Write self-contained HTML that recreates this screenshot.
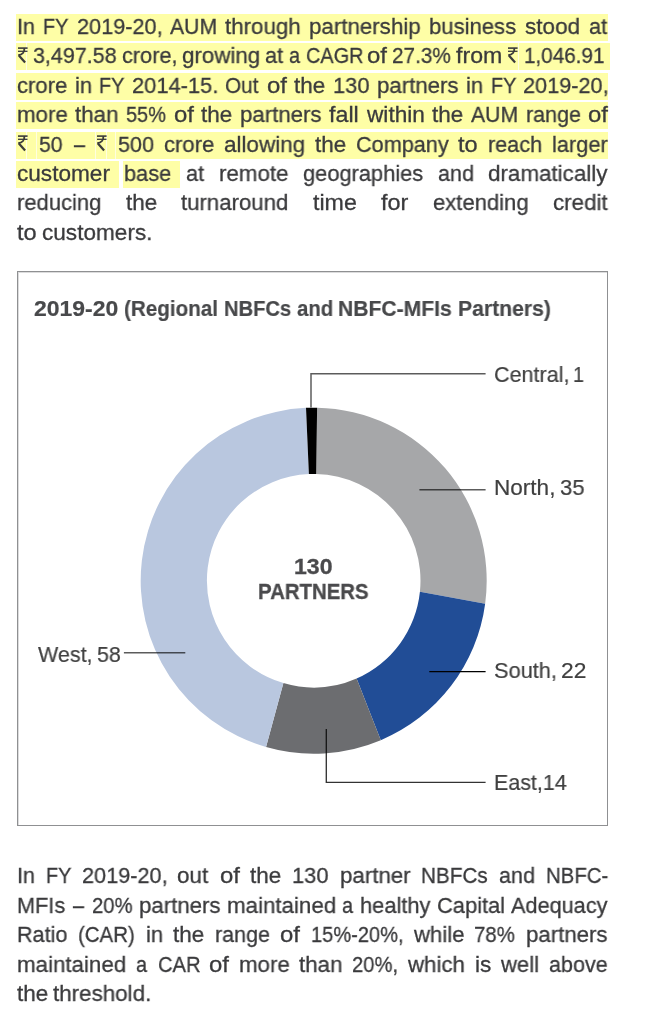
<!DOCTYPE html>
<html><head><meta charset="utf-8"><style>
html,body{margin:0;padding:0;background:#fff;}
body{width:670px;height:1014px;position:relative;overflow:hidden;font-family:"Liberation Sans",sans-serif;}
span,.r{position:absolute;white-space:nowrap;transform-origin:0 0;will-change:transform;}
.hl{position:absolute;background:#fefea6;}
.gap{position:absolute;width:1px;background:#fefee0;}
.w{font-size:22.6px;line-height:22.6px;color:#3a3a3c;-webkit-text-stroke:0.3px #3a3a3c;}
.frame{position:absolute;left:17px;top:271px;width:589px;height:553px;border:1px solid #8f9092;box-shadow:inset 1px 1px 0 #dcdcdd;}
.tt{font-size:22.5px;line-height:22.5px;font-weight:bold;color:#48494b;-webkit-text-stroke:0.2px #48494b;}
.chart{position:absolute;left:0;top:0;}
.lab{font-size:22.4px;line-height:22.4px;color:#404040;-webkit-text-stroke:0.2px #404040;}
.ctr{font-size:22.2px;line-height:22.2px;font-weight:bold;color:#4a4a4c;-webkit-text-stroke:0.3px #4a4a4c;}
</style></head><body>
<div class="hl" style="left:16.0px;top:13.9px;width:592.0px;height:27px"></div>
<div class="hl" style="left:16.0px;top:43.3px;width:594.0px;height:27px"></div>
<div class="hl" style="left:16.0px;top:72.7px;width:592.0px;height:27px"></div>
<div class="hl" style="left:16.0px;top:102.1px;width:592.0px;height:27px"></div>
<div class="hl" style="left:16.0px;top:131.5px;width:592.0px;height:27px"></div>
<div class="hl" style="left:16.0px;top:160.9px;width:102.6px;height:27px"></div>
<div class="hl" style="left:123.2px;top:160.9px;width:56.8px;height:27px"></div>
<div class="gap" style="left:26.1px;top:43.3px;height:27px"></div>
<div class="gap" style="left:517.7px;top:43.3px;height:27px"></div>
<div class="gap" style="left:26.3px;top:131.5px;height:27px"></div>
<div class="gap" style="left:35.7px;top:131.5px;height:27px"></div>
<div class="gap" style="left:94.8px;top:131.5px;height:27px"></div>
<div class="gap" style="left:105.5px;top:131.5px;height:27px"></div>
<div class="gap" style="left:114.5px;top:131.5px;height:27px"></div>
<span class="w" style="left:16.97px;top:16.07px;transform:scaleX(0.9510)">In</span>
<span class="w" style="left:43.44px;top:16.07px;transform:scaleX(0.8800)">FY</span>
<span class="w" style="left:76.64px;top:16.07px;transform:scaleX(0.9601)">2019-20,</span>
<span class="w" style="left:169.73px;top:16.07px;transform:scaleX(0.9375)">AUM</span>
<span class="w" style="left:224.96px;top:16.07px;transform:scaleX(0.9884)">through</span>
<span class="w" style="left:309.16px;top:16.07px;transform:scaleX(0.9875)">partnership</span>
<span class="w" style="left:429.24px;top:16.07px;transform:scaleX(0.9770)">business</span>
<span class="w" style="left:525.44px;top:16.07px;transform:scaleX(0.9956)">stood</span>
<span class="w" style="left:589.06px;top:16.07px;transform:scaleX(0.9652)">at</span>
<svg class="r" style="left:16.70px;top:46.20px" width="11" height="18" viewBox="0 0 11 18"><g fill="none" stroke="#3a3a3c"><path d="M1,2.1H10.6" stroke-width="1.6"/><path d="M1,5.3H10.5" stroke-width="1.3"/><path d="M7.3,2.1C7.7,5.9 5.6,8.9 1.2,9.1" stroke-width="1.8"/><path d="M1.9,9.5L8.1,16.4" stroke-width="2.2"/></g></svg>
<span class="w" style="left:33.49px;top:45.47px;transform:scaleX(0.9500)">3,497.58</span>
<span class="w" style="left:122.25px;top:45.47px;transform:scaleX(0.9606)">crore,</span>
<span class="w" style="left:181.63px;top:45.47px;transform:scaleX(0.9883)">growing</span>
<span class="w" style="left:265.04px;top:45.47px;transform:scaleX(0.9652)">at</span>
<span class="w" style="left:288.73px;top:45.47px;transform:scaleX(0.8800)">a</span>
<span class="w" style="left:305.63px;top:45.47px;transform:scaleX(0.8800)">CAGR</span>
<span class="w" style="left:367.41px;top:45.47px;transform:scaleX(1.0600)">of</span>
<span class="w" style="left:392.25px;top:45.47px;transform:scaleX(0.9165)">27.3%</span>
<span class="w" style="left:456.42px;top:45.47px;transform:scaleX(1.0249)">from</span>
<svg class="r" style="left:507.25px;top:46.20px" width="11" height="18" viewBox="0 0 11 18"><g fill="none" stroke="#3a3a3c"><path d="M1,2.1H10.6" stroke-width="1.6"/><path d="M1,5.3H10.5" stroke-width="1.3"/><path d="M7.3,2.1C7.7,5.9 5.6,8.9 1.2,9.1" stroke-width="1.8"/><path d="M1.9,9.5L8.1,16.4" stroke-width="2.2"/></g></svg>
<span class="w" style="left:524.04px;top:45.47px;transform:scaleX(0.9145)">1,046.91</span>
<span class="w" style="left:17.02px;top:74.87px;transform:scaleX(0.9756)">crore</span>
<span class="w" style="left:74.63px;top:74.87px;transform:scaleX(0.9722)">in</span>
<span class="w" style="left:99.37px;top:74.87px;transform:scaleX(0.8800)">FY</span>
<span class="w" style="left:131.68px;top:74.87px;transform:scaleX(0.9682)">2014-15.</span>
<span class="w" style="left:225.44px;top:74.87px;transform:scaleX(0.9154)">Out</span>
<span class="w" style="left:266.84px;top:74.87px;transform:scaleX(1.0600)">of</span>
<span class="w" style="left:293.96px;top:74.87px;transform:scaleX(0.9947)">the</span>
<span class="w" style="left:332.66px;top:74.87px;transform:scaleX(0.9666)">130</span>
<span class="w" style="left:376.88px;top:74.87px;transform:scaleX(0.9840)">partners</span>
<span class="w" style="left:466.26px;top:74.87px;transform:scaleX(0.9722)">in</span>
<span class="w" style="left:491.00px;top:74.87px;transform:scaleX(0.8800)">FY</span>
<span class="w" style="left:523.32px;top:74.87px;transform:scaleX(0.9601)">2019-20,</span>
<span class="w" style="left:17.06px;top:104.27px;transform:scaleX(0.9853)">more</span>
<span class="w" style="left:74.78px;top:104.27px;transform:scaleX(0.9880)">than</span>
<span class="w" style="left:126.43px;top:104.27px;transform:scaleX(0.8800)">55%</span>
<span class="w" style="left:173.84px;top:104.27px;transform:scaleX(1.0600)">of</span>
<span class="w" style="left:200.97px;top:104.27px;transform:scaleX(0.9947)">the</span>
<span class="w" style="left:239.59px;top:104.27px;transform:scaleX(0.9840)">partners</span>
<span class="w" style="left:329.16px;top:104.27px;transform:scaleX(1.0296)">fall</span>
<span class="w" style="left:366.98px;top:104.27px;transform:scaleX(1.0019)">within</span>
<span class="w" style="left:432.07px;top:104.27px;transform:scaleX(0.9947)">the</span>
<span class="w" style="left:470.82px;top:104.27px;transform:scaleX(0.9375)">AUM</span>
<span class="w" style="left:525.61px;top:104.27px;transform:scaleX(0.9509)">range</span>
<span class="w" style="left:587.88px;top:104.27px;transform:scaleX(1.0600)">of</span>
<svg class="r" style="left:16.70px;top:134.40px" width="11" height="18" viewBox="0 0 11 18"><g fill="none" stroke="#3a3a3c"><path d="M1,2.1H10.6" stroke-width="1.6"/><path d="M1,5.3H10.5" stroke-width="1.3"/><path d="M7.3,2.1C7.7,5.9 5.6,8.9 1.2,9.1" stroke-width="1.8"/><path d="M1.9,9.5L8.1,16.4" stroke-width="2.2"/></g></svg>
<span class="w" style="left:38.77px;top:133.67px;transform:scaleX(0.9380)">50</span>
<span class="w" style="left:73.97px;top:133.67px;transform:scaleX(0.8800)">–</span>
<svg class="r" style="left:96.17px;top:134.40px" width="11" height="18" viewBox="0 0 11 18"><g fill="none" stroke="#3a3a3c"><path d="M1,2.1H10.6" stroke-width="1.6"/><path d="M1,5.3H10.5" stroke-width="1.3"/><path d="M7.3,2.1C7.7,5.9 5.6,8.9 1.2,9.1" stroke-width="1.8"/><path d="M1.9,9.5L8.1,16.4" stroke-width="2.2"/></g></svg>
<span class="w" style="left:118.22px;top:133.67px;transform:scaleX(0.9539)">500</span>
<span class="w" style="left:164.24px;top:133.67px;transform:scaleX(0.9756)">crore</span>
<span class="w" style="left:224.29px;top:133.67px;transform:scaleX(0.9944)">allowing</span>
<span class="w" style="left:315.10px;top:133.67px;transform:scaleX(0.9947)">the</span>
<span class="w" style="left:356.06px;top:133.67px;transform:scaleX(0.9585)">Company</span>
<span class="w" style="left:458.39px;top:133.67px;transform:scaleX(1.0437)">to</span>
<span class="w" style="left:488.00px;top:133.67px;transform:scaleX(0.9572)">reach</span>
<span class="w" style="left:552.25px;top:133.67px;transform:scaleX(0.9654)">larger</span>
<span class="w" style="left:17.00px;top:163.07px;transform:scaleX(1.0005)">customer</span>
<span class="w" style="left:124.28px;top:163.07px;transform:scaleX(0.9624)">base</span>
<span class="w" style="left:185.80px;top:163.07px;transform:scaleX(0.9652)">at</span>
<span class="w" style="left:219.04px;top:163.07px;transform:scaleX(0.9881)">remote</span>
<span class="w" style="left:302.77px;top:163.07px;transform:scaleX(0.9665)">geographies</span>
<span class="w" style="left:437.77px;top:163.07px;transform:scaleX(0.9545)">and</span>
<span class="w" style="left:488.31px;top:163.07px;transform:scaleX(0.9910)">dramatically</span>
<span class="w" style="left:17.18px;top:192.47px;transform:scaleX(0.9738)">reducing</span>
<span class="w" style="left:125.83px;top:192.47px;transform:scaleX(0.9947)">the</span>
<span class="w" style="left:181.06px;top:192.47px;transform:scaleX(0.9818)">turnaround</span>
<span class="w" style="left:312.65px;top:192.47px;transform:scaleX(1.0261)">time</span>
<span class="w" style="left:381.00px;top:192.47px;transform:scaleX(1.0364)">for</span>
<span class="w" style="left:432.54px;top:192.47px;transform:scaleX(0.9756)">extending</span>
<span class="w" style="left:552.62px;top:192.47px;transform:scaleX(0.9886)">credit</span>
<span class="w" style="left:16.76px;top:221.87px;transform:scaleX(1.0437)">to</span>
<span class="w" style="left:41.98px;top:221.87px;transform:scaleX(0.9988)">customers.</span>
<span class="w" style="left:16.97px;top:865.27px;transform:scaleX(0.9510)">In</span>
<span class="w" style="left:45.96px;top:865.27px;transform:scaleX(0.8800)">FY</span>
<span class="w" style="left:81.67px;top:865.27px;transform:scaleX(0.9601)">2019-20,</span>
<span class="w" style="left:176.98px;top:865.27px;transform:scaleX(0.9906)">out</span>
<span class="w" style="left:219.56px;top:865.27px;transform:scaleX(1.0600)">of</span>
<span class="w" style="left:250.07px;top:865.27px;transform:scaleX(0.9947)">the</span>
<span class="w" style="left:292.17px;top:865.27px;transform:scaleX(0.9666)">130</span>
<span class="w" style="left:339.78px;top:865.27px;transform:scaleX(0.9867)">partner</span>
<span class="w" style="left:421.17px;top:865.27px;transform:scaleX(0.9153)">NBFCs</span>
<span class="w" style="left:499.13px;top:865.27px;transform:scaleX(0.9545)">and</span>
<span class="w" style="left:546.21px;top:865.27px;transform:scaleX(0.9021)">NBFC-</span>
<span class="w" style="left:17.06px;top:894.77px;transform:scaleX(0.9607)">MFIs</span>
<span class="w" style="left:73.18px;top:894.77px;transform:scaleX(0.8800)">–</span>
<span class="w" style="left:91.92px;top:894.77px;transform:scaleX(0.8961)">20%</span>
<span class="w" style="left:138.83px;top:894.77px;transform:scaleX(0.9840)">partners</span>
<span class="w" style="left:226.75px;top:894.77px;transform:scaleX(0.9875)">maintained</span>
<span class="w" style="left:342.06px;top:894.77px;transform:scaleX(0.8800)">a</span>
<span class="w" style="left:360.13px;top:894.77px;transform:scaleX(0.9664)">healthy</span>
<span class="w" style="left:436.76px;top:894.77px;transform:scaleX(0.9681)">Capital</span>
<span class="w" style="left:511.35px;top:894.77px;transform:scaleX(0.9594)">Adequacy</span>
<span class="w" style="left:17.07px;top:924.27px;transform:scaleX(0.9548)">Ratio</span>
<span class="w" style="left:78.13px;top:924.27px;transform:scaleX(0.9044)">(CAR)</span>
<span class="w" style="left:145.89px;top:924.27px;transform:scaleX(0.9722)">in</span>
<span class="w" style="left:173.32px;top:924.27px;transform:scaleX(0.9947)">the</span>
<span class="w" style="left:215.08px;top:924.27px;transform:scaleX(0.9509)">range</span>
<span class="w" style="left:280.45px;top:924.27px;transform:scaleX(1.0600)">of</span>
<span class="w" style="left:311.30px;top:924.27px;transform:scaleX(0.8874)">15%-20%,</span>
<span class="w" style="left:413.95px;top:924.27px;transform:scaleX(0.9792)">while</span>
<span class="w" style="left:474.47px;top:924.27px;transform:scaleX(0.9007)">78%</span>
<span class="w" style="left:526.03px;top:924.27px;transform:scaleX(0.9840)">partners</span>
<span class="w" style="left:17.06px;top:953.77px;transform:scaleX(0.9875)">maintained</span>
<span class="w" style="left:136.04px;top:953.77px;transform:scaleX(0.8800)">a</span>
<span class="w" style="left:157.78px;top:953.77px;transform:scaleX(0.8913)">CAR</span>
<span class="w" style="left:209.46px;top:953.77px;transform:scaleX(1.0600)">of</span>
<span class="w" style="left:239.20px;top:953.77px;transform:scaleX(0.9853)">more</span>
<span class="w" style="left:299.24px;top:953.77px;transform:scaleX(0.9880)">than</span>
<span class="w" style="left:352.44px;top:953.77px;transform:scaleX(0.8935)">20%,</span>
<span class="w" style="left:407.81px;top:953.77px;transform:scaleX(0.9837)">which</span>
<span class="w" style="left:474.54px;top:953.77px;transform:scaleX(0.9904)">is</span>
<span class="w" style="left:501.27px;top:953.77px;transform:scaleX(0.9760)">well</span>
<span class="w" style="left:549.35px;top:953.77px;transform:scaleX(0.9527)">above</span>
<span class="w" style="left:16.78px;top:983.27px;transform:scaleX(0.9947)">the</span>
<span class="w" style="left:53.21px;top:983.27px;transform:scaleX(0.9904)">threshold.</span>
<div class="frame"></div>
<span class="tt" style="left:33.81px;top:297.75px;transform:scaleX(1.0209)">2019-20</span>
<span class="tt" style="left:124.14px;top:297.75px;transform:scaleX(0.9171)">(Regional</span>
<span class="tt" style="left:223.63px;top:297.75px;transform:scaleX(0.8955)">NBFCs</span>
<span class="tt" style="left:296.63px;top:297.75px;transform:scaleX(0.9063)">and</span>
<span class="tt" style="left:338.33px;top:297.75px;transform:scaleX(0.9378)">NBFC-MFIs</span>
<span class="tt" style="left:457.57px;top:297.75px;transform:scaleX(0.9406)">Partners)</span>
<svg class="chart" width="670" height="1014" viewBox="0 0 670 1014"><path fill="#a6a7a9" d="M317.11,407.73A173.0,173.0 0 0 1 485.16,603.73L419.92,591.79A106.8,106.8 0 0 0 316.20,473.93Z"/><path fill="#214d96" d="M485.16,603.73A173.0,173.0 0 0 1 380.80,740.16L356.59,678.51A106.8,106.8 0 0 0 419.92,591.79Z"/><path fill="#6c6d70" d="M380.80,740.16A173.0,173.0 0 0 1 266.04,747.01L283.40,683.11A106.8,106.8 0 0 0 356.59,678.51Z"/><path fill="#b9c7df" d="M266.04,747.01A173.0,173.0 0 0 1 306.00,407.87L308.89,474.01A106.8,106.8 0 0 0 283.40,683.11Z"/><path fill="#000" d="M306.00,407.87A173.0,173.0 0 0 1 317.11,407.73L316.20,473.93A106.8,106.8 0 0 0 308.89,474.01Z"/><polyline points="311,407.5 311,373.8 485.6,373.8" fill="none" stroke="rgba(0,0,0,0.64)" stroke-width="1.5"/><polyline points="419.4,489.8 485.6,489.8" fill="none" stroke="rgba(0,0,0,0.64)" stroke-width="1.5"/><polyline points="429.3,671.5 485.6,671.5" fill="none" stroke="#000" stroke-width="1.25"/><polyline points="123.9,652.8 185.3,652.8" fill="none" stroke="rgba(0,0,0,0.64)" stroke-width="1.5"/><polyline points="326.3,729 326.3,782.4 485.6,782.4" fill="none" stroke="rgba(0,0,0,0.8)" stroke-width="1.35"/></svg>
<span class="lab" style="left:494.12px;top:363.84px;transform:scaleX(0.9626)">Central,</span>
<span class="lab" style="left:573.35px;top:363.84px;transform:scaleX(0.8800)">1</span>
<span class="lab" style="left:493.69px;top:477.44px;transform:scaleX(1.0075)">North,</span>
<span class="lab" style="left:559.96px;top:477.44px;transform:scaleX(0.9846)">35</span>
<span class="lab" style="left:493.63px;top:660.44px;transform:scaleX(0.9725)">South,</span>
<span class="lab" style="left:561.01px;top:660.44px;transform:scaleX(1.0181)">22</span>
<span class="lab" style="left:37.60px;top:643.64px;transform:scaleX(0.9600)">West,</span>
<span class="lab" style="left:97.48px;top:643.64px;transform:scaleX(0.9549)">58</span>
<span class="lab" style="left:493.68px;top:772.44px;transform:scaleX(0.9574)">East,14</span>
<span class="ctr" style="left:294.21px;top:555.61px;transform:scaleX(1.0400)">130</span>
<span class="ctr" style="left:258.48px;top:580.51px;transform:scaleX(0.9188)">PARTNERS</span>
</body></html>
